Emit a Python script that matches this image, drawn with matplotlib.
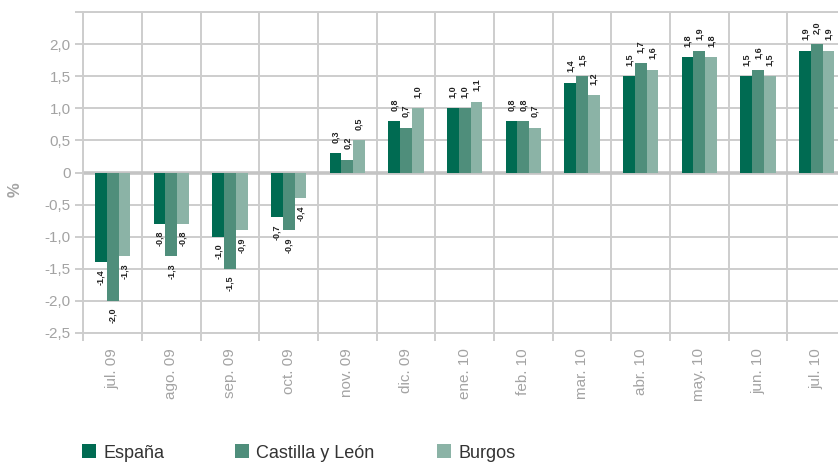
import numpy as np
import matplotlib
matplotlib.use('Agg')
import matplotlib.pyplot as plt
from matplotlib.patches import Rectangle

plt.rcParams['font.family'] = ['Liberation Sans', 'DejaVu Sans']

meses = ['jul. 09', 'ago. 09', 'sep. 09', 'oct. 09', 'nov. 09', 'dic. 09', 'ene. 10',
         'feb. 10', 'mar. 10', 'abr. 10', 'may. 10', 'jun. 10', 'jul. 10']
espana = [-1.4, -0.8, -1.0, -0.7, 0.3, 0.8, 1.0, 0.8, 1.4, 1.5, 1.8, 1.5, 1.9]
castilla = [-2.0, -1.3, -1.5, -0.9, 0.2, 0.7, 1.0, 0.8, 1.5, 1.7, 1.9, 1.6, 2.0]
burgos = [-1.3, -0.8, -0.9, -0.4, 0.5, 1.0, 1.1, 0.7, 1.2, 1.6, 1.8, 1.5, 1.9]
series = ['España', 'Castilla y León', 'Burgos']
colores = ['#006b52', '#4f8e7b', '#8bb3a6']

grid_c = '#cdcdcd'
txt_c = '#a3a3a3'

fig = plt.figure(figsize=(8.38, 4.63), dpi=100)
# the plotting area runs a little past the right edge of the figure
ax = fig.add_axes([83.3 / 838, 130 / 463, 762.7 / 838, 321 / 463])

x = np.arange(len(meses))
w = 0.2
for i, (vals, col) in enumerate(zip([espana, castilla, burgos], colores)):
    pos = x + (i - 1) * w
    ax.bar(pos, vals, width=w, color=col, zorder=3, linewidth=0)
    for px, v in zip(pos, vals):
        txt = f'{v:.1f}'.replace('.', ',')
        if v >= 0:
            ax.annotate(txt, (px, v), xytext=(0, 7.5), textcoords='offset points',
                        rotation=90, ha='center', va='bottom', fontsize=6.5,
                        fontweight='bold', color='#222222', zorder=4)
        else:
            ax.annotate(txt, (px, v), xytext=(0, -5), textcoords='offset points',
                        rotation=90, ha='center', va='top', fontsize=6.5,
                        fontweight='bold', color='#222222', zorder=4)

ax.axhline(0, color='#c4c4c4', lw=2.6, zorder=2)

ax.set_xlim(-0.5, len(meses) - 0.5)
ax.set_ylim(-2.5, 2.5)

yt = np.arange(-2.5, 2.51, 0.5)
ylab = []
for t in yt:
    if abs(t) < 1e-9:
        ylab.append('0')
    elif t > 2.4:
        ylab.append('')
    else:
        ylab.append(f'{t:.1f}'.replace('.', ','))
ax.set_yticks(yt)
ax.set_yticklabels(ylab)
ax.tick_params(axis='y', length=6, width=1.4, color=grid_c, pad=3,
               labelsize=11, labelcolor=txt_c)

ax.set_xticks(x)
ax.set_xticklabels(meses, rotation=90, va='top', ha='center')
ax.set_xticks(np.arange(-0.5, len(meses), 1.0), minor=True)
ax.tick_params(axis='x', which='major', length=0, pad=11, labelsize=11, labelcolor=txt_c)
ax.tick_params(axis='x', which='minor', length=6, width=1.4, color=grid_c)

ax.grid(True, axis='y', which='major', color=grid_c, lw=1.4, zorder=0)
ax.grid(True, axis='x', which='minor', color=grid_c, lw=1.4, zorder=0)
ax.set_axisbelow(True)
for s in ax.spines.values():
    s.set_color(grid_c)
    s.set_linewidth(1.4)

fig.text(15 / 838, 1 - 190 / 463, '%', rotation=90, ha='center', va='center',
         fontsize=12, fontweight='bold', color=txt_c)

# legend along the bottom edge
leg_x = [82, 235, 437]
for name, col, lx in zip(series, colores, leg_x):
    fig.patches.append(Rectangle((lx / 838, 1 - 458 / 463), 14 / 838, 14 / 463,
                                 transform=fig.transFigure, color=col, lw=0))
    fig.text((lx + 21) / 838, 1 - 458 / 463, name, ha='left', va='baseline',
             fontsize=13, color='#333333')

fig.savefig('out.png', dpi=100)
